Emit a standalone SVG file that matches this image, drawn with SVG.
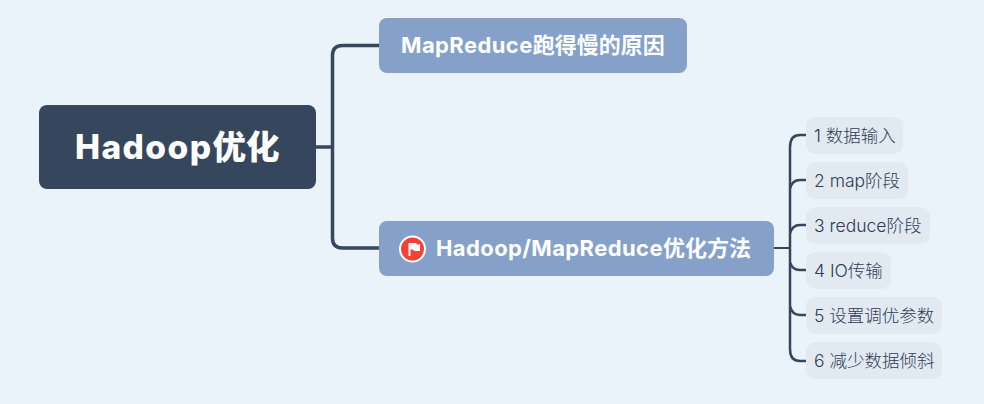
<svg xmlns="http://www.w3.org/2000/svg" width="984" height="404" viewBox="0 0 984 404">
<style>
text{font-family:"Inter","Noto Sans CJK SC",sans-serif}
.c{fill:none;stroke:#36465d;stroke-linecap:round}
.m{fill:#85a1c9}
.mt{fill:#fff;font-size:22px;font-weight:700}
.s{fill:#e3e9f1}
.st{fill:#2b3d57;font-size:17.500px;font-weight:300}
</style>
<rect width="984" height="404" fill="#ebf3fa"/>
<g id="connectors">
<path class="c" stroke-width="3.500" d="M316 147H332.500M379 45.500H342.500Q332.500 45.500 332.500 55.500V238Q332.500 248 342.500 248H379"/>
<path class="c" stroke-width="2" d="M774 248H790"/>
<path class="c" stroke-width="2.500" d="M806 135H800Q790 135 790 147V349Q790 361 800 361H806M806 180H800Q792 180 790 189M806 225H800Q792 225 790 234M790 262Q792 270 800 270H806M790 306Q792 315 800 315H806"/>
</g>
<g id="root"><rect x="39" y="105" width="277" height="84" rx="8" fill="#36465d"/><text x="75" y="159" fill="#fff" font-size="33.500" font-weight="800"><tspan letter-spacing="1.400">Hadoop</tspan>优化</text></g>
<g id="n1"><rect class="m" x="379" y="18" width="308" height="55" rx="8"/><text class="mt" x="401" y="53"><tspan letter-spacing="0.400">MapReduce</tspan>跑得慢的原因</text></g>
<g id="n2"><rect class="m" x="379" y="221" width="395" height="55" rx="8"/>
<circle cx="412.500" cy="249" r="12.500" fill="#f44336" stroke="#fff" stroke-width="2"/>
<path d="M408.500 256V243H416L417 244.500H420V251H414L413 249.500H410.500V256Z" fill="#fff"/>
<text class="mt" x="436" y="256"><tspan letter-spacing="0.400">Hadoop/MapReduce</tspan>优化方法</text></g>
<g id="c1"><rect class="s" x="806" y="117" width="97" height="37" rx="9"/><text class="st" x="814" y="142">1 数据输入</text></g>
<g id="c2"><rect class="s" x="806" y="162" width="102" height="37" rx="9"/><text class="st" x="814" y="187">2 map阶段</text></g>
<g id="c3"><rect class="s" x="806" y="207" width="124" height="37" rx="9"/><text class="st" x="814" y="232">3 reduce阶段</text></g>
<g id="c4"><rect class="s" x="806" y="252" width="85" height="37" rx="9"/><text class="st" x="814" y="277">4 IO传输</text></g>
<g id="c5"><rect class="s" x="806" y="297" width="136" height="37" rx="9"/><text class="st" x="814" y="322">5 设置调优参数</text></g>
<g id="c6"><rect class="s" x="806" y="342" width="136" height="37" rx="9"/><text class="st" x="814" y="367">6 减少数据倾斜</text></g>
</svg>
